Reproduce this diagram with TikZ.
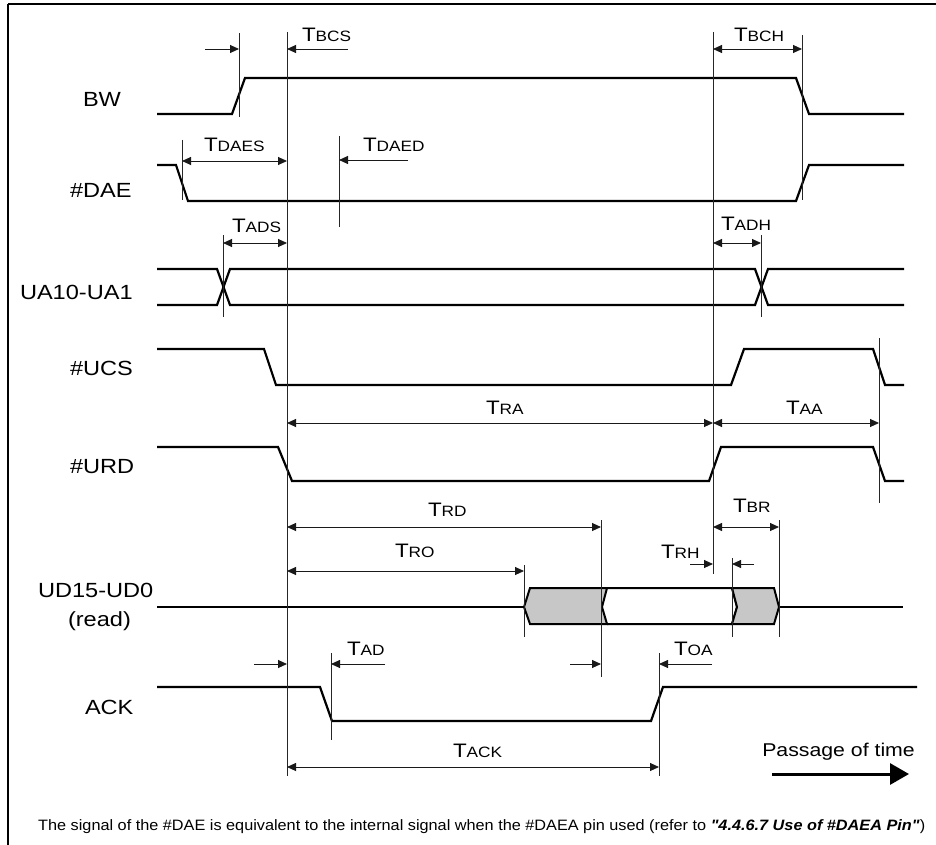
\documentclass[tikz,border=0pt]{standalone}
\usepackage{fontspec}
\setmainfont{Liberation Sans}[FakeStretch=1.15]
\newfontfamily\footfont{Liberation Sans}
\usetikzlibrary{arrows.meta}
\newcommand\Tlbl[1]{{\fontsize{19.5}{20}\selectfont T}{\fontsize{15}{16}\selectfont #1}}
\begin{document}
\begin{tikzpicture}[x=1pt,y=-1pt,
  sig/.style={line width=2.2pt, line join=miter, line cap=butt},
  refline/.style={line width=0.9pt, black!85},
  dimline/.style={line width=0.9pt, black!90},
  tip/.tip={Triangle[length=9pt,width=8pt]},
  one/.style={dimline,-{Triangle[length=9pt,width=8pt]}},
  two/.style={dimline,{Triangle[length=9pt,width=8pt]}-{Triangle[length=9pt,width=8pt]}},
  lbl/.style={inner sep=0pt, outer sep=0pt, anchor=base west},
  siglbl/.style={inner sep=0pt, outer sep=0pt, anchor=base west, font=\fontsize{20.5}{24}\selectfont},
]
\useasboundingbox (0,0) rectangle (936,845);
% border
\draw[line width=2pt] (8,4) -- (936,4);
\draw[line width=1.5pt] (8,4) -- (8,845);

% signal labels
\node[siglbl] (lBW) at (83,107) {BW};
\node[siglbl] (lDAE) at (70,197) {\#DAE};
\node[siglbl] (lUA) at (20,299) {UA10-UA1};
\node[siglbl] (lUCS) at (70,375) {\#UCS};
\node[siglbl] (lURD) at (70,473) {\#URD};
\node[siglbl] (lUD) at (38,597) {UD15-UD0};
\node[siglbl] (lRD) at (68,626) {(read)};
\node[siglbl] (lACK) at (85,714) {ACK};

% signals
\draw[sig] (157,114) -- (232,114) -- (245,78) -- (796,78) -- (809,114) -- (904,114);
\draw[sig] (157,165) -- (176,165) -- (188,201) -- (796,201) -- (809,165) -- (904,165);
\draw[sig] (157,269) -- (217,269) -- (230,305) -- (755,305) -- (768,269) -- (904,269);
\draw[sig] (157,305) -- (217,305) -- (230,269) -- (755,269) -- (768,305) -- (904,305);
\draw[sig] (157,349) -- (264,349) -- (276,385) -- (731,385) -- (744,349) -- (873,349) -- (885,385) -- (904,385);
\draw[sig] (157,447) -- (278,447) -- (292,481) -- (709,481) -- (721,447) -- (873,447) -- (885,481) -- (904,481);
\draw[sig] (157,687) -- (320,687) -- (332,721) -- (651,721) -- (663,687) -- (917,687);
% data bus
\filldraw[fill=black!22, line width=2pt, line join=miter] (524,607) -- (530,588) -- (607,588) -- (602,607) -- (607,624) -- (530,624) -- cycle;
\draw[line width=2pt, line join=miter] (607,588) -- (732,588) -- (737,607) -- (732,624) -- (607,624);
\filldraw[fill=black!22, line width=2pt, line join=miter] (732,588) -- (774,588) -- (779,607) -- (774,624) -- (732,624) -- (737,607) -- cycle;
\draw[sig] (157,607) -- (524,607);
\draw[sig] (779,607) -- (903,607);

% reference lines
\draw[refline] (239,33) -- (239,117);
\draw[refline] (287,32) -- (287,776);
\draw[refline] (713,32) -- (713,574);
\draw[refline] (802,35) -- (802,200);
\draw[refline] (182,140) -- (182,200);
\draw[refline] (339,136) -- (339,227);
\draw[refline] (223,235) -- (223,317);
\draw[refline] (761,235) -- (761,317);
\draw[refline] (879,338) -- (879,503);
\draw[refline] (601,520) -- (601,677);
\draw[refline] (524,565) -- (524,637);
\draw[refline] (732,558) -- (732,637);
\draw[refline] (779,520) -- (779,637);
\draw[refline] (331,653) -- (331,740);
\draw[refline] (659,653) -- (659,776);

% dimension arrows
\draw[one] (205,49) -- (239,49);
\draw[one] (348,49) -- (287,49);
\draw[two] (713,49) -- (802,49);
\draw[two] (182,161) -- (287,161);
\draw[one] (408,160) -- (339,160);
\draw[two] (223,243) -- (287,243);
\draw[two] (713,243) -- (761,243);
\draw[two] (287,423) -- (713,423);
\draw[two] (713,423) -- (879,423);
\draw[two] (287,527) -- (601,527);
\draw[two] (287,571) -- (524,571);
\draw[two] (713,527) -- (779,527);
\draw[one] (690,564) -- (713,564);
\draw[one] (754,564) -- (732,564);
\draw[one] (254,664) -- (287,664);
\draw[one] (385,664) -- (331,664);
\draw[one] (570,664) -- (601,664);
\draw[one] (712,664) -- (659,664);
\draw[two] (287,767) -- (659,767);

% timing labels
\node[lbl] (tBCS) at (302,42) {\Tlbl{BCS}};
\node[lbl] (tBCH) at (734,42) {\Tlbl{BCH}};
\node[lbl] (tDAES) at (204,152) {\Tlbl{DAES}};
\node[lbl] (tDAED) at (363,152) {\Tlbl{DAED}};
\node[lbl] (tADS) at (232,232) {\Tlbl{ADS}};
\node[lbl] (tADH) at (721,230) {\Tlbl{ADH}};
\node[lbl] (tRA) at (486,414) {\Tlbl{RA}};
\node[lbl] (tAA) at (786,414) {\Tlbl{AA}};
\node[lbl] (tRD) at (428,516) {\Tlbl{RD}};
\node[lbl] (tRO) at (395,557) {\Tlbl{RO}};
\node[lbl] (tBR) at (733,512) {\Tlbl{BR}};
\node[lbl] (tRH) at (661,558) {\Tlbl{RH}};
\node[lbl] (tAD) at (347,655) {\Tlbl{AD}};
\node[lbl] (tOA) at (674,655) {\Tlbl{OA}};
\node[lbl] (tACK) at (453,757) {\Tlbl{ACK}};

% passage of time
\node[inner sep=0pt, anchor=base east, font=\fontsize{18.5}{22}\selectfont] (pot) at (915,756) {Passage of time};
\coordinate (pa) at (772,774);
\coordinate (pb) at (909,774);
\draw[line width=3pt, -{Triangle[length=19pt,width=21pt]}] (pa) -- (pb);

% footer
\node[inner sep=0pt, anchor=base west] (foot) at (38,830) {\resizebox{887pt}{10.9pt}{\footfont\fontsize{15}{16}\selectfont The signal of the \#DAE is equivalent to the internal signal when the \#DAEA pin used (refer to \textbf{\textit{"4.4.6.7 Use of \#DAEA Pin"}})}};
\end{tikzpicture}
\end{document}
